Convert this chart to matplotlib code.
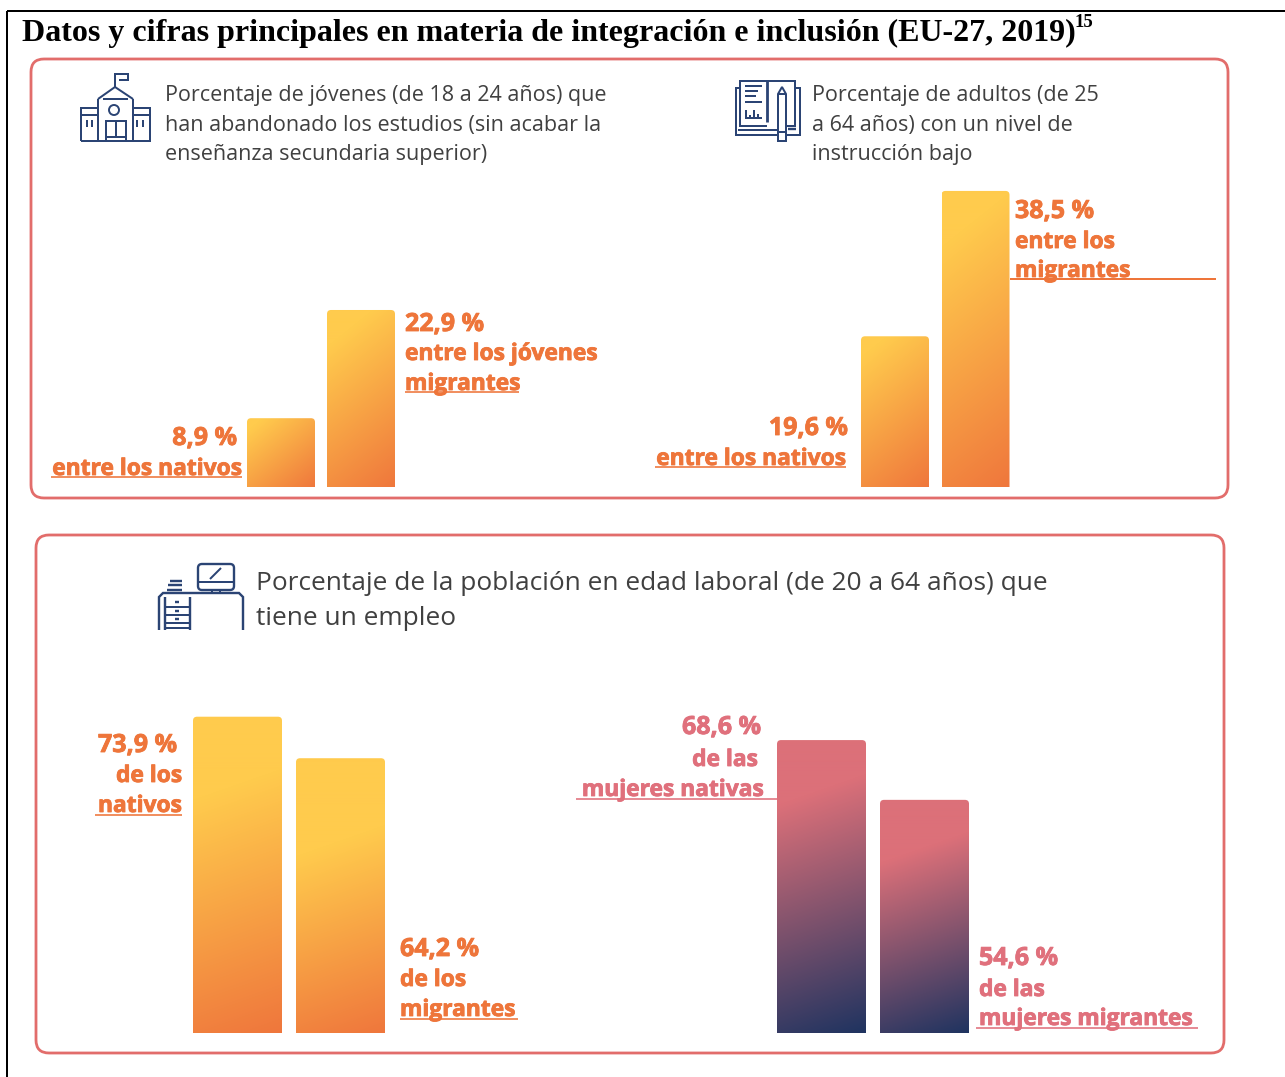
import numpy as np
import matplotlib
matplotlib.use('Agg')
import matplotlib.pyplot as plt
import matplotlib.patheffects as pe
from matplotlib.patches import FancyBboxPatch, Circle
from matplotlib.colors import to_rgb

W, H = 1285, 1077

# data
jovenes = [8.9, 22.9]
adultos = [19.6, 38.5]
empleo = [73.9, 64.2]
mujeres = [68.6, 54.6]

jovenes_labels = [['8,9 %', 'entre los nativos'], ['22,9 %', 'entre los jóvenes', 'migrantes']]
adultos_labels = [['19,6 %', 'entre los nativos'], ['38,5 %', 'entre los', 'migrantes']]
empleo_labels = [['73,9 %', 'de los', 'nativos'], ['64,2 %', 'de los', 'migrantes']]
mujeres_labels = [['68,6 %', 'de las', 'mujeres nativas'], ['54,6 %', 'de las', 'mujeres migrantes']]

title = 'Datos y cifras principales en materia de integración e inclusión (EU-27, 2019)'
heading_1 = ['Porcentaje de jóvenes (de 18 a 24 años) que', 'han abandonado los estudios (sin acabar la', 'enseñanza secundaria superior)']
heading_2 = ['Porcentaje de adultos (de 25', 'a 64 años) con un nivel de', 'instrucción bajo']
heading_3 = ['Porcentaje de la población en edad laboral (de 20 a 64 años) que', 'tiene un empleo']

YELLOW = '#FFCB4D'
ORANGE = '#EF763C'
PINK = '#DC7079'
NAVY = '#1E3360'
TXT_ORANGE = '#EE753A'
TXT_PINK = '#E0707C'
ICON = '#2B4474'
FRAME = '#E26D6B'
GREY = '#404040'
LABEL_FONT = ['Open Sans', 'DejaVu Sans']

fig = plt.figure(figsize=(W / 100, H / 100), dpi=100, facecolor='white')

# overlay in pixels for frames, text and icons
bg = fig.add_axes([0, 0, 1, 1])
bg.set_xlim(0, W)
bg.set_ylim(H, 0)
bg.axis('off')


def line(xs, ys, color=ICON, lw=2.0):
    bg.plot(xs, ys, color=color, lw=lw * 0.72, solid_capstyle='butt', solid_joinstyle='miter')


def frame(x0, y0, x1, y1):
    bg.add_patch(FancyBboxPatch((x0, y0), x1 - x0, y1 - y0, boxstyle='round,pad=0,rounding_size=13',
                                fc='none', ec=FRAME, lw=2.0))


def block(x, baselines, lines, ha='left', color=GREY, size=15.5):
    for i, s in enumerate(lines):
        xi = x[i] if isinstance(x, list) else x
        bg.text(xi, baselines[i], s, ha=ha, va='baseline', color=color, fontsize=size, family='Open Sans')


def label(x, baselines, lines, color, ha='left'):
    # bold labels, the percentage a bit larger than the words below it
    for i, s in enumerate(lines):
        xi = x[i] if isinstance(x, list) else x
        size = 18.0 if s.endswith('%') else 16.4
        t = bg.text(xi, baselines[i], s, ha=ha, va='baseline', color=color, fontsize=size,
                    fontweight='bold', family=LABEL_FONT)
        t.set_path_effects([pe.withStroke(linewidth=0.6, foreground=color)])


def bars(values, x_first, step, width, base, scale, fade, tilt, c_top, c_bot):
    # one axes per pair of bars, value axis scaled so 0 sits on the base pixel
    ymax = max(values) * 1.02
    left = x_first - (step - width) / 2
    ax_w = step * 2
    ax = fig.add_axes([left / W, (H - base) / H, ax_w / W, ymax * scale / H])
    ax.patch.set_alpha(0)
    ax.axis('off')
    c0, c1 = np.array(to_rgb(c_top)), np.array(to_rgb(c_bot))
    x_unit = 1 / step
    y_unit = 1 / scale
    for i, v in enumerate(values):
        bw = width * x_unit
        x0 = i - bw / 2
        h_px, w_px = int(v * scale), int(width)
        py, px = np.mgrid[0:h_px, 0:w_px]
        s = (py + tilt * px) / (h_px + tilt * w_px)
        t = np.clip((s - fade[i]) / (1 - fade[i]), 0, 1)[..., None]
        img = c0 * (1 - t) + c1 * t
        im = ax.imshow(img, extent=(x0, x0 + bw, 0, v), aspect='auto', zorder=2, interpolation='bilinear')
        clip = FancyBboxPatch((x0, -v * 0.1), bw, v * 1.1,
                              boxstyle='round,pad=0,rounding_size=%f' % (4 * x_unit),
                              mutation_aspect=y_unit / x_unit, fc='none', ec='none',
                              transform=ax.transData)
        ax.add_patch(clip)
        im.set_clip_path(clip)
    ax.set_xlim(-0.5, 1.5)
    ax.set_ylim(0, ymax)
    return ax


# page border and title
line([7, 7], [11, H], color='black', lw=2)
line([7, W], [11, 11], color='black', lw=2)
bg.text(22, 41, title, family='Liberation Serif', fontweight='bold', fontsize=23.03, color='black', va='baseline')
bg.text(1075, 27, '15', family='Liberation Serif', fontweight='bold', fontsize=13.5, color='black', va='baseline')

frame(31, 59, 1228, 498)
frame(36, 535, 1224, 1053)

# headings
block(165, [101, 131, 160], heading_1)
block(812, [101, 131, 160], heading_2)
block(256, [590, 625], heading_3, size=18.9)

# bars
bars(jovenes, 247, 80, 68, 487, 7.73, [0.1, 0.16], 0.8, YELLOW, ORANGE)
bars(adultos, 861, 80.5, 68, 487, 7.69, [0.1, 0.16], 0.8, YELLOW, ORANGE)
bars(empleo, 193, 103, 89, 1033, 4.28, [0.24, 0.32], 0.35, YELLOW, ORANGE)
bars(mujeres, 777, 103, 89, 1033, 4.27, [0.2, 0.24], 0.35, PINK, NAVY)

# value labels
label(237, [445], jovenes_labels[0][:1], TXT_ORANGE, ha='right')
label(242, [475], jovenes_labels[0][1:], TXT_ORANGE, ha='right')
line([51, 242], [477, 477], TXT_ORANGE, lw=1.6)
label(405, [331, 360, 390], jovenes_labels[1], TXT_ORANGE)
line([405, 519], [392, 392], TXT_ORANGE, lw=1.6)

label(848, [435], adultos_labels[0][:1], TXT_ORANGE, ha='right')
label(846, [465], adultos_labels[0][1:], TXT_ORANGE, ha='right')
line([655, 846], [467, 467], TXT_ORANGE, lw=1.6)
label(1015, [218, 248, 277], adultos_labels[1], TXT_ORANGE)
line([1010, 1216], [279, 279], TXT_ORANGE)

label([177, 182, 182], [752, 782, 812], empleo_labels[0], TXT_ORANGE, ha='right')
line([95, 182], [815, 815], TXT_ORANGE, lw=1.6)
label(400, [956, 986, 1016], empleo_labels[1], TXT_ORANGE)
line([400, 518], [1019, 1019], TXT_ORANGE, lw=1.6)

label([761, 758, 764], [734, 766, 796], mujeres_labels[0], TXT_PINK, ha='right')
line([576, 777], [799, 799], TXT_PINK, lw=1.6)
label(979, [965, 996, 1025], mujeres_labels[1], TXT_PINK)
line([976, 1198], [1028, 1028], TXT_PINK, lw=1.6)

# school icon
line([115, 115, 128, 128, 119], [87, 74, 74, 80, 80])
line([98, 115, 133], [99, 87, 99])
line([103, 128], [99, 99])
line([98, 98], [99, 141])
line([133, 133], [99, 141])
line([81, 150, 150, 133], [141, 141, 108, 108])
line([98, 81, 81], [108, 108, 141])
line([81, 98], [115, 115])
line([133, 150], [115, 115])
bg.add_patch(Circle((114, 110), 5, fc='none', ec=ICON, lw=1.4))
line([106, 106, 126, 126], [141, 121, 121, 141])
line([116, 116], [121, 137])
line([106, 126], [137, 137])
for xw in [87, 92, 137, 143]:
    line([xw, xw], [120, 127])

# book icon
line([767, 740, 740, 767], [81, 81, 126, 126])
line([767, 795, 795, 787], [81, 81, 126, 126])
line([767, 767], [81, 122], lw=2.8)
line([740, 736, 736, 778], [88, 88, 135, 135])
line([786, 800, 800, 795], [135, 135, 88, 88])
line([738, 778], [130, 130])
line([788, 796], [129, 129], lw=2.4)
for yl, xl in zip([86, 91, 96, 102], [762, 758, 756, 762]):
    line([745, xl], [yl, yl])
line([745, 762], [118, 118])
for xb, yb in zip([746, 750, 754, 758], [110, 115, 110, 114]):
    line([xb, xb], [118, yb])
line([778, 778, 782, 786, 786, 778, 778], [141, 94, 87, 94, 141, 141, 94])
line([778, 786], [94, 94])
line([778, 786], [132, 132])

# desk icon
line([159, 159, 163, 239, 243, 243], [630, 597, 593, 593, 597, 630], lw=2.4)
bg.add_patch(FancyBboxPatch((198, 564), 36, 26, boxstyle='round,pad=0,rounding_size=4', fc='none', ec=ICON, lw=1.7))
line([198, 234], [582, 582])
line([210, 221], [579, 568])
line([212, 212], [590, 593])
line([220, 220], [590, 593])
line([165, 165], [597, 630], lw=2.4)
line([190, 190], [597, 630], lw=2.4)
for yd in [607, 615, 623, 628]:
    line([165, 190], [yd, yd])
for yd in [602, 611, 619]:
    line([175, 179], [yd, yd], lw=2.4)
for yb, xa in zip([581, 585, 590], [170, 168, 167]):
    line([xa, 182], [yb, yb], lw=2.4)

fig.savefig('out.png', dpi=100)
